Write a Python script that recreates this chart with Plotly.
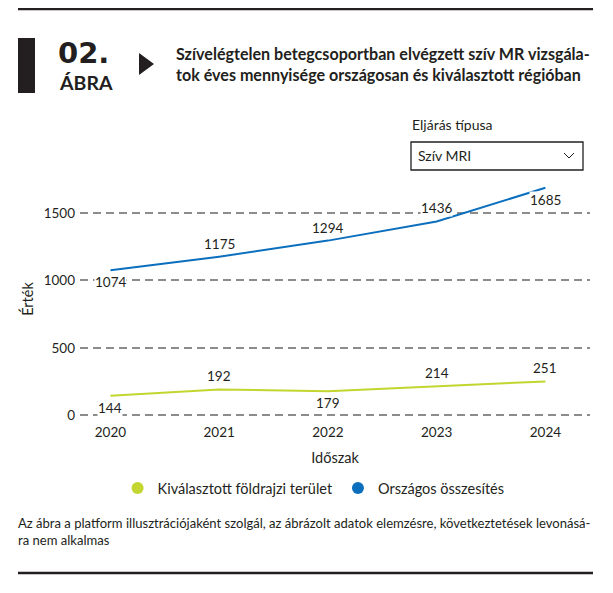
import plotly.graph_objects as go

# data
years = ["2020", "2021", "2022", "2023", "2024"]
orszagos = [1074, 1175, 1294, 1436, 1685]
regio = [144, 192, 179, 214, 251]
y_ticks = [0, 500, 1000, 1500]

name_regio = "Kiválasztott földrajzi terület"
name_orszagos = "Országos összesítés"

BLUE = "#0b6fbd"
GREEN = "#c3d52f"
TEXT = "#231f20"
FONT = "Lato"

# where each value label sits relative to its point
pos_orszagos = ["below", "above", "above", "above", "below"]
pos_regio = ["below", "above", "below", "above", "above"]

W, H = 613, 593
OFF = 8  # page body margin of the html page
# plot area in page pixels: x 80..590, y 180..418
L, R, T, B = 80 - OFF, W - 590 + OFF, 180 - OFF, H - 418 + OFF


def px(x):
    return (x - OFF - L) / (W - L - R)


def py(y):
    return (H - B - (y - OFF)) / (H - T - B)


fig = go.Figure()
fig.add_trace(go.Scatter(x=years, y=regio, mode="lines", line=dict(color=GREEN, width=2),
                         showlegend=False, hoverinfo="skip"))
fig.add_trace(go.Scatter(x=years, y=orszagos, mode="lines", line=dict(color=BLUE, width=2),
                         showlegend=False, hoverinfo="skip"))
# legend-only entries (circles)
fig.add_trace(go.Scatter(x=[None], y=[None], mode="markers", name=name_regio,
                         marker=dict(size=12, color=GREEN)))
fig.add_trace(go.Scatter(x=[None], y=[None], mode="markers", name=name_orszagos,
                         marker=dict(size=12, color=BLUE)))

annotations = []
for vals, poss in [(orszagos, pos_orszagos), (regio, pos_regio)]:
    for i, (v, p) in enumerate(zip(vals, poss)):
        annotations.append(dict(x=i, y=v, xref="x", yref="y", text=str(v), showarrow=False,
                                yshift=13 if p == "above" else -12, bgcolor="white",
                                borderpad=0, font=dict(family=FONT, size=13.5, color=TEXT)))

# header and footer text
annotations += [
    dict(x=px(56), y=py(53), text="<b>02.</b>", xanchor="left", yanchor="middle",
         font=dict(family="DejaVu Sans", size=29, color=TEXT)),
    dict(x=px(57), y=py(83), text="<b>ÁBRA</b>", xanchor="left", yanchor="middle",
         font=dict(family=FONT, size=19.5, color=TEXT)),
    dict(x=px(174), y=py(64),
         text="<b>Szívelégtelen betegcsoportban elvégzett szív MR vizsgála-<br>"
              "tok éves mennyisége országosan és kiválasztott régióban</b>",
         xanchor="left", yanchor="middle", align="left",
         font=dict(family=FONT, size=16.1, color=TEXT)),
    dict(x=px(410), y=py(125), text="Eljárás típusa", xanchor="left", yanchor="middle",
         font=dict(family=FONT, size=14, color=TEXT)),
    dict(x=px(416), y=py(156), text="Szív MRI", xanchor="left", yanchor="middle",
         font=dict(family=FONT, size=14, color=TEXT)),
    dict(x=px(16), y=py(531),
         text="Az ábra a platform illusztrációjaként szolgál, az ábrázolt adatok elemzésre, "
              "következtetések levonásá-<br>ra nem alkalmas",
         xanchor="left", yanchor="middle", align="left",
         font=dict(family=FONT, size=13.05, color=TEXT)),
]
for a in annotations:
    a.setdefault("xref", "paper")
    a.setdefault("yref", "paper")
    a.setdefault("showarrow", False)

shapes = [
    dict(type="line", x0=px(18), x1=px(593), y0=py(9), y1=py(9),
         line=dict(color=TEXT, width=2.5)),
    dict(type="line", x0=px(18), x1=px(593), y0=py(573), y1=py(573),
         line=dict(color=TEXT, width=2.5)),
    dict(type="rect", x0=px(18), x1=px(35), y0=py(38), y1=py(93),
         fillcolor=TEXT, line=dict(width=0)),
    dict(type="path", path="M {} {} L {} {} L {} {} Z".format(px(139), py(53), px(154), py(64),
                                                          px(139), py(75)),
         fillcolor=TEXT, line=dict(width=0)),
    dict(type="rect", x0=px(411), x1=px(583), y0=py(142), y1=py(170),
         fillcolor="white", line=dict(color=TEXT, width=1.3)),
    dict(type="path", path="M {} {} L {} {} L {} {}".format(px(564), py(153), px(569), py(158),
                                                        px(574), py(153)),
         line=dict(color=TEXT, width=1)),
]
for s in shapes:
    s["xref"] = "paper"
    s["yref"] = "paper"

fig.update_layout(
    width=W, height=H,
    margin=dict(l=L, r=R, t=T, b=B),
    paper_bgcolor="white", plot_bgcolor="white",
    font=dict(family=FONT, size=13, color=TEXT),
    showlegend=True,
    legend=dict(orientation="h", x=0.458, xanchor="center", y=py(488), yanchor="middle",
                font=dict(family=FONT, size=14.5, color=TEXT)),
    xaxis=dict(type="category", range=[-0.28, 4.41], showgrid=False, zeroline=False,
               showline=False, ticks="", tickfont=dict(size=13.5), automargin=False,
               ticklabelstandoff=4,
               title=dict(text="Időszak", font=dict(size=14.5), standoff=14)),
    yaxis=dict(range=[-20, 1743], tickvals=y_ticks, showgrid=True, gridcolor="#8c8c8c",
               gridwidth=2, griddash="8px,5px", zeroline=False, showline=False, ticks="",
               tickfont=dict(size=13.5), ticklabelstandoff=4, automargin=False,
               title=dict(text="Érték", font=dict(size=14.5), standoff=6)),
    annotations=annotations,
    shapes=shapes,
)

fig.write_html("out.html")
